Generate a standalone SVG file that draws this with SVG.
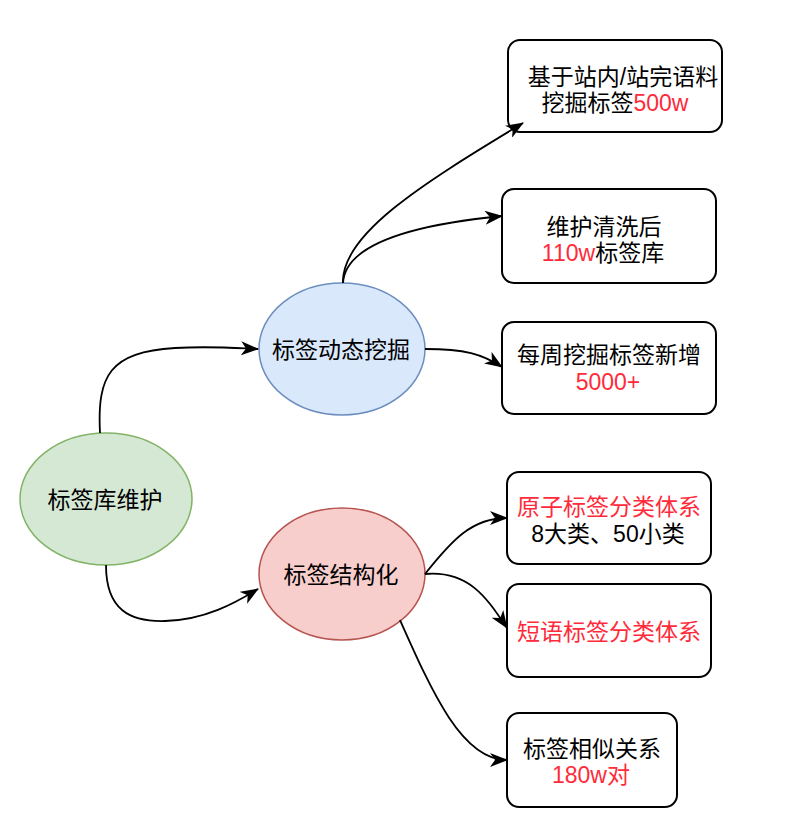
<svg xmlns="http://www.w3.org/2000/svg" width="794" height="828" viewBox="0 0 794 828">
<style>
text{font-family:"Liberation Sans","Noto Sans CJK SC",sans-serif;font-size:23px;fill:#000;text-anchor:middle}
.r{fill:#ff2a3a}
.box{fill:#fff;stroke:#000;stroke-width:2}
.edge{fill:none;stroke:#000;stroke-width:1.8}
</style>
<defs>
<marker id="arr" markerUnits="userSpaceOnUse" markerWidth="18" markerHeight="14" refX="17" refY="7" orient="auto">
<path d="M0,0 L18,7 L0,14 L5,7 Z" fill="#000"/>
</marker>
</defs>
<rect width="794" height="828" fill="#fff"/>
<g id="root">
<ellipse cx="106" cy="499" rx="86" ry="66" fill="#d5e8d4" stroke="#82b366" stroke-width="1.5"/>
<text x="105" y="508">标签库维护</text>
</g>
<g id="mining">
<ellipse cx="342" cy="349" rx="83" ry="66" fill="#dae8fc" stroke="#6c8ebf" stroke-width="1.5"/>
<text x="341" y="358">标签动态挖掘</text>
</g>
<g id="structure">
<ellipse cx="342" cy="574" rx="83" ry="66" fill="#f8cecc" stroke="#b85450" stroke-width="1.5"/>
<text x="341" y="583">标签结构化</text>
</g>
<g id="box1">
<rect class="box" x="508" y="40" width="214" height="92" rx="12"/>
<text x="623" y="85">基于站内/站完语料</text>
<text x="615" y="111">挖掘标签<tspan class="r">500w</tspan></text>
</g>
<g id="box2">
<rect class="box" x="502" y="189" width="214" height="94" rx="12"/>
<text x="604" y="235">维护清洗后</text>
<text x="603" y="261"><tspan class="r">110w</tspan>标签库</text>
</g>
<g id="box3">
<rect class="box" x="502" y="322" width="214" height="92" rx="12"/>
<text x="609" y="363">每周挖掘标签新增</text>
<text x="608" y="390" class="r">5000+</text>
</g>
<g id="box4">
<rect class="box" x="507" y="472" width="204" height="92" rx="12"/>
<text x="609" y="515" class="r">原子标签分类体系</text>
<text x="608" y="542">8大类、50小类</text>
</g>
<g id="box5">
<rect class="box" x="507" y="584" width="204" height="93" rx="12"/>
<text x="609" y="640" class="r">短语标签分类体系</text>
</g>
<g id="box6">
<rect class="box" x="507" y="713" width="170" height="94" rx="12"/>
<text x="592" y="757">标签相似关系</text>
<text x="591" y="783" class="r">180w对</text>
</g>
<g id="connectors">
<path class="edge" marker-end="url(#arr)" d="M100,433 C97,375 110,352 175,348 C210,346 235,348 258,349"/>
<path class="edge" marker-end="url(#arr)" d="M106,565 C106,610 130,622 165,621 C205,620 235,603 258,589"/>
<path class="edge" marker-end="url(#arr)" d="M343,283 C341,235 420,185 523,123"/>
<path class="edge" marker-end="url(#arr)" d="M343,283 C345,248 400,226 502,216"/>
<path class="edge" marker-end="url(#arr)" d="M425,349 C465,349 482,354 502,367"/>
<path class="edge" marker-end="url(#arr)" d="M425,574 C452,540 472,518 507,518"/>
<path class="edge" marker-end="url(#arr)" d="M425,574 C470,570 488,600 507,628"/>
<path class="edge" marker-end="url(#arr)" d="M400,620 C432,692 462,760 507,760"/>
</g>
</svg>
